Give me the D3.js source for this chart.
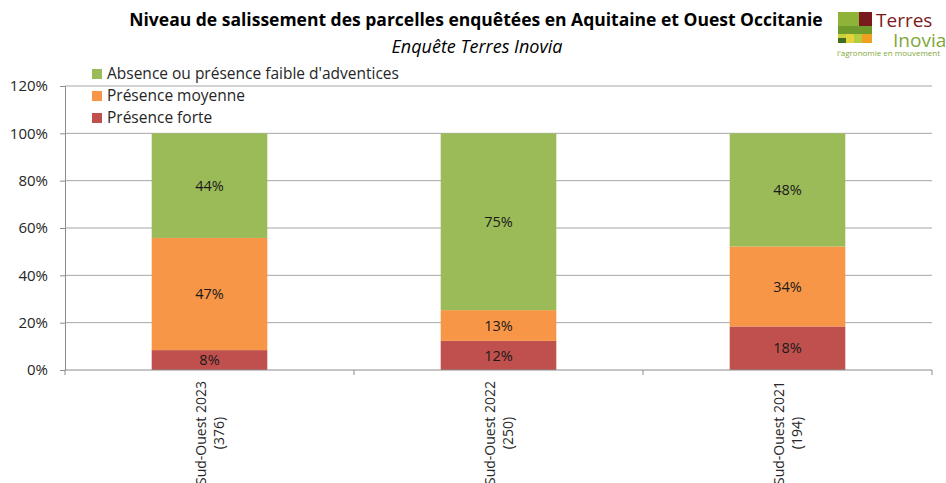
<!DOCTYPE html>
<html>
<head>
<meta charset="utf-8">
<script src="https://cdn.jsdelivr.net/npm/d3@7"></script>
<style>
  body { margin: 0; background: #fff; }
  text { font-family: "Open Sans", "DejaVu Sans", sans-serif; }
</style>
</head>
<body>
<div class="canva"></div>
<script>
// data
const categories = ['Sud-Ouest 2023', 'Sud-Ouest 2022', 'Sud-Ouest 2021']
const counts = ['(376)', '(250)', '(194)']
const forte = [8.4, 12.3, 18.4]
const moyenne = [47.4, 13.0, 33.8]
const faible = [44.2, 74.7, 47.8]
const seriesNames = ["Absence ou présence faible d'adventices", 'Présence moyenne', 'Présence forte']
const yTicks = [0, 20, 40, 60, 80, 100, 120]

const colors = { forte: '#c0504d', moyenne: '#f79646', faible: '#9bbb59' }

const W = 946, H = 483
const margin = { left: 65, right: 14, top: 86, bottom: 113 }

const svg = d3.select('.canva').append('svg')
    .attr('width', W)
    .attr('height', H)

const x = d3.scaleBand()
    .domain(categories)
    .range([margin.left, W - margin.right])
    .paddingInner(0.6)
    .paddingOuter(0.3)

const y = d3.scaleLinear()
    .domain([0, 120])
    .range([H - margin.bottom, margin.top])

// gridlines
svg.append('g')
    .selectAll('line')
    .data(yTicks.filter(d => d > 0))
    .enter().append('line')
    .attr('x1', margin.left)
    .attr('x2', W - margin.right)
    .attr('y1', d => y(d))
    .attr('y2', d => y(d))
    .attr('stroke', '#a6a6a6')
    .attr('stroke-width', 1)

// y axis
const yAxis = svg.append('g')
    .attr('transform', `translate(${margin.left},0)`)
    .call(d3.axisLeft(y).tickValues(yTicks).tickFormat(d => d + '%').tickSize(5).tickPadding(12))
yAxis.select('.domain').attr('stroke', '#8c8c8c')
yAxis.selectAll('.tick line').attr('stroke', '#8c8c8c')
yAxis.selectAll('text')
    .attr('font-size', 15)
    .attr('fill', '#262626')
    .style('font-family', '"Open Sans", sans-serif')

// stacked bars
const rows = categories.map((c, i) => ({ cat: c, forte: forte[i], moyenne: moyenne[i], faible: faible[i] }))
const stack = d3.stack().keys(['forte', 'moyenne', 'faible'])(rows)

const layers = svg.append('g')
    .selectAll('g')
    .data(stack)
    .enter().append('g')
    .attr('fill', d => colors[d.key])

layers.selectAll('rect')
    .data(d => d)
    .enter().append('rect')
    .attr('x', d => x(d.data.cat))
    .attr('width', x.bandwidth())
    .attr('y', d => y(d[1]))
    .attr('height', d => y(d[0]) - y(d[1]))

layers.selectAll('text')
    .data(d => d)
    .enter().append('text')
    .attr('x', d => x(d.data.cat) + x.bandwidth() / 2)
    .attr('y', d => (y(d[0]) + y(d[1])) / 2)
    .attr('dy', '0.35em')
    .attr('text-anchor', 'middle')
    .attr('font-size', 14.5)
    .attr('fill', '#1a1a1a')
    .text(d => Math.round(d[1] - d[0]) + '%')

// x axis
const x0 = y(0)
svg.append('line')
    .attr('x1', margin.left).attr('x2', W - margin.right)
    .attr('y1', x0).attr('y2', x0)
    .attr('stroke', '#8c8c8c')
const step = x.step()
svg.append('g')
    .selectAll('line')
    .data(d3.range(categories.length + 1))
    .enter().append('line')
    .attr('x1', i => margin.left + i * step)
    .attr('x2', i => margin.left + i * step)
    .attr('y1', x0)
    .attr('y2', x0 + 5)
    .attr('stroke', '#8c8c8c')

// rotated category labels
const labs = svg.append('g')
    .selectAll('g')
    .data(categories)
    .enter().append('g')
    .attr('transform', d => `translate(${x(d) + x.bandwidth() / 2},${x0 + 11}) rotate(-90)`)
labs.each(function(d, i) {
    const g = d3.select(this)
    const t1 = g.append('text')
        .attr('text-anchor', 'end')
        .attr('x', 0).attr('y', -4)
        .attr('font-size', 14)
        .attr('fill', '#262626')
        .text(d)
    const len = t1.node().getComputedTextLength()
    g.append('text')
        .attr('text-anchor', 'middle')
        .attr('x', -len / 2).attr('y', 14)
        .attr('font-size', 14)
        .attr('fill', '#262626')
        .text(counts[i])
})

// legend
const legendKeys = ['faible', 'moyenne', 'forte']
const legend = svg.append('g')
    .selectAll('g')
    .data(legendKeys)
    .enter().append('g')
    .attr('transform', (d, i) => `translate(92,${74 + i * 22})`)
legend.append('rect')
    .attr('x', 0).attr('y', -5)
    .attr('width', 10).attr('height', 10)
    .attr('fill', d => colors[d])
legend.append('text')
    .attr('x', 15).attr('dy', '0.35em')
    .attr('font-size', 15.5)
    .attr('fill', '#262626')
    .text((d, i) => seriesNames[i])

// titles
svg.append('text')
    .attr('x', 476).attr('y', 26)
    .attr('text-anchor', 'middle')
    .attr('font-size', 17.5)
    .attr('font-weight', 'bold')
    .attr('fill', '#000')
    .text('Niveau de salissement des parcelles enquêtées en Aquitaine et Ouest Occitanie')
svg.append('text')
    .attr('x', 477).attr('y', 53)
    .attr('text-anchor', 'middle')
    .attr('font-size', 18)
    .attr('font-style', 'italic')
    .attr('fill', '#000')
    .text('Enquête Terres Inovia')

// logo
const logo = svg.append('g')
logo.append('rect').attr('x', 838).attr('y', 12).attr('width', 21).attr('height', 14).attr('fill', '#8fb339')
logo.append('rect').attr('x', 859).attr('y', 12).attr('width', 13).attr('height', 14).attr('fill', '#7b1a1c')
logo.append('rect').attr('x', 838).attr('y', 26).attr('width', 34).attr('height', 8).attr('fill', '#6f9a2c')
logo.append('rect').attr('x', 838).attr('y', 34).attr('width', 8).attr('height', 9).attr('fill', '#c8d23a')
logo.append('rect').attr('x', 838).attr('y', 38).attr('width', 8).attr('height', 5).attr('fill', '#3f6e21')
logo.append('rect').attr('x', 846).attr('y', 34).attr('width', 8).attr('height', 9).attr('fill', '#e3d43a')
logo.append('rect').attr('x', 854).attr('y', 34).attr('width', 8).attr('height', 9).attr('fill', '#b6cc3f')
logo.append('rect').attr('x', 862).attr('y', 34).attr('width', 10).attr('height', 9).attr('fill', '#f0a020')
logo.append('text').attr('x', 876).attr('y', 27).attr('font-size', 19).attr('fill', '#7b1a1c').text('Terres')
logo.append('text').attr('x', 893).attr('y', 47).attr('font-size', 19).attr('fill', '#7fa83a').text('Inovia')
logo.append('text').attr('x', 837).attr('y', 56).attr('font-size', 8).attr('fill', '#7fa83a').text("l'agronomie en mouvement")
</script>
</body>
</html>
